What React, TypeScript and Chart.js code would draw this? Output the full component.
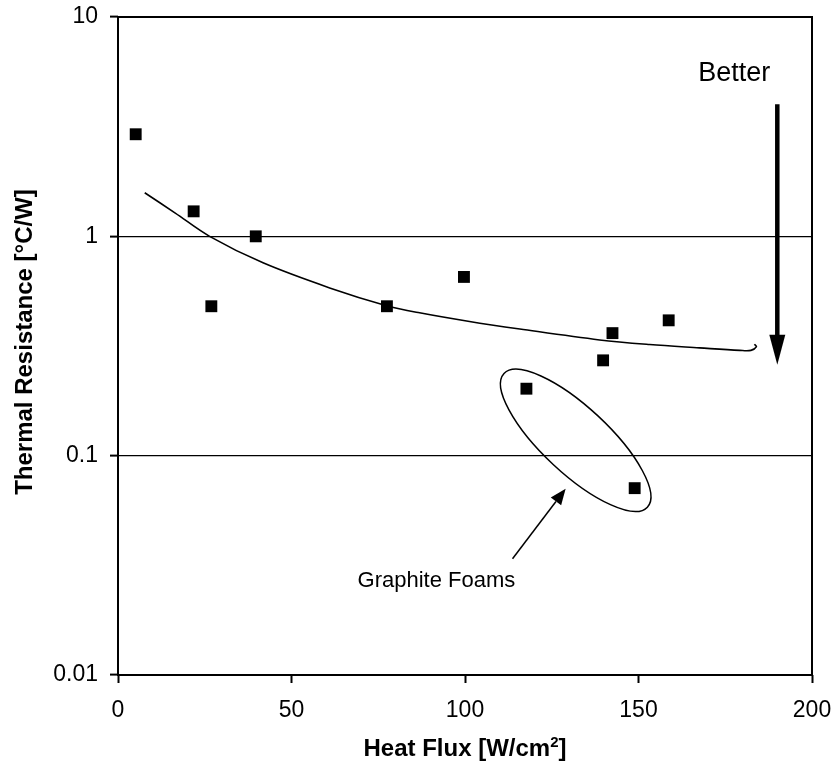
import React, { useEffect, useRef } from "react";
import { Chart, registerables } from "chart.js";

Chart.register(...registerables);

// Measured samples: heat flux [W/cm²] vs thermal resistance [°C/W]
const heatFlux = [5.1, 21.8, 26.9, 39.7, 77.5, 99.7, 117.7, 139.8, 142.5, 148.9, 158.7];
const resistance = [2.92, 1.3, 0.48, 1.0, 0.48, 0.653, 0.202, 0.272, 0.362, 0.0711, 0.414];

// Trend line through the samples
const trendFlux = [7.7, 16.4, 26.4, 41.8, 61.0, 77.4, 86.9, 101.3, 115.8, 138.8, 153.2, 167.6, 179.2, 182.4, 184.0, 183.4];
const trendResistance = [1.58, 1.28, 1.0, 0.757, 0.582, 0.483, 0.448, 0.409, 0.378, 0.337, 0.321, 0.31, 0.302, 0.302, 0.314, 0.322];

// Axis ticks
const xTicks = [0, 50, 100, 150, 200];
const yTicks = [0.01, 0.1, 1, 10];

const FONT = '"Liberation Sans", Arial, Helvetica, sans-serif';
const TICK_SIZE = 23;
const TITLE_SIZE = 24;

const overlay = {
  id: "overlay",
  afterDraw(chart: any) {
    const { ctx, chartArea: a, scales } = chart;
    const x = scales.x;
    const y = scales.y;
    const px = (v: number) => x.getPixelForValue(v);
    const py = (v: number) => y.getPixelForValue(v);

    ctx.save();
    // plot frame
    ctx.strokeStyle = "#000";
    ctx.lineWidth = 2;
    ctx.strokeRect(a.left, a.top, a.right - a.left, a.bottom - a.top);

    // "Better" arrow
    const bx = px(190);
    const bTop = py(4.0);
    const bTip = py(0.26);
    ctx.fillStyle = "#000";
    ctx.lineWidth = 4.5;
    ctx.beginPath();
    ctx.moveTo(bx, bTop);
    ctx.lineTo(bx, bTip - 28);
    ctx.stroke();
    ctx.beginPath();
    ctx.moveTo(bx - 8, bTip - 30);
    ctx.lineTo(bx + 8, bTip - 30);
    ctx.lineTo(bx, bTip);
    ctx.closePath();
    ctx.fill();

    ctx.font = `27px ${FONT}`;
    ctx.textAlign = "right";
    ctx.textBaseline = "alphabetic";
    ctx.fillText("Better", px(188.0), py(5.1));

    // Graphite foam group ellipse
    ctx.lineWidth = 1.5;
    ctx.beginPath();
    ctx.ellipse(px(131.9), py(0.1175), 98, 33, (43 * Math.PI) / 180, 0, Math.PI * 2);
    ctx.stroke();

    // pointer arrow
    const sx = px(113.7), sy = py(0.0339);
    const tx = px(129.0), ty = py(0.0707);
    const ang = Math.atan2(ty - sy, tx - sx);
    const hl = 16, hw = 6.5;
    const baseX = tx - hl * Math.cos(ang), baseY = ty - hl * Math.sin(ang);
    ctx.lineWidth = 1.5;
    ctx.beginPath();
    ctx.moveTo(sx, sy);
    ctx.lineTo(baseX, baseY);
    ctx.stroke();
    ctx.beginPath();
    ctx.moveTo(tx, ty);
    ctx.lineTo(baseX + hw * Math.sin(ang), baseY - hw * Math.cos(ang));
    ctx.lineTo(baseX - hw * Math.sin(ang), baseY + hw * Math.cos(ang));
    ctx.closePath();
    ctx.fill();

    ctx.font = `22px ${FONT}`;
    ctx.textAlign = "right";
    ctx.fillText("Graphite Foams", px(114.5), py(0.0252));

    // x axis title with superscript
    const cx = (a.left + a.right) / 2;
    const ty2 = 756;
    ctx.font = `bold ${TITLE_SIZE}px ${FONT}`;
    const p1 = "Heat Flux [W/cm";
    const p3 = "]";
    const supFont = `bold ${Math.round(TITLE_SIZE * 0.62)}px ${FONT}`;
    const w1 = ctx.measureText(p1).width;
    const w3 = ctx.measureText(p3).width;
    ctx.font = supFont;
    const w2 = ctx.measureText("2").width;
    const startX = cx - (w1 + w2 + w3) / 2;
    ctx.textAlign = "left";
    ctx.font = `bold ${TITLE_SIZE}px ${FONT}`;
    ctx.fillText(p1, startX, ty2);
    ctx.font = supFont;
    ctx.fillText("2", startX + w1, ty2 - 9);
    ctx.font = `bold ${TITLE_SIZE}px ${FONT}`;
    ctx.fillText(p3, startX + w1 + w2, ty2);

    // y axis title
    ctx.translate(25, (a.top + a.bottom) / 2 - 4);
    ctx.rotate(-Math.PI / 2);
    ctx.textAlign = "center";
    ctx.textBaseline = "middle";
    ctx.fillText("Thermal Resistance [°C/W]", 0, 0);
    ctx.restore();
  },
};

export default function App() {
  const canvasRef = useRef<HTMLCanvasElement | null>(null);

  useEffect(() => {
    document.body.style.margin = "0";
    const canvas = canvasRef.current;
    if (!canvas) return;
    const chart = new Chart(canvas, {
      type: "scatter",
      data: {
        datasets: [
          {
            label: "Samples",
            data: heatFlux.map((v, i) => ({ x: v, y: resistance[i] })),
            pointStyle: "rect",
            pointRadius: 8.4,
            backgroundColor: "#000",
            borderColor: "#000",
            borderWidth: 0,
            showLine: false,
          },
          {
            label: "Trend",
            data: trendFlux.map((v, i) => ({ x: v, y: trendResistance[i] })),
            showLine: true,
            pointRadius: 0,
            borderColor: "#000",
            borderWidth: 1.6,
            tension: 0.35,
            fill: false,
          },
        ],
      },
      options: {
        animation: false,
        responsive: false,
        devicePixelRatio: 1,
        layout: { padding: { left: 0, top: 17, right: 25, bottom: 0 } },
        plugins: {
          legend: { display: false },
          tooltip: { enabled: false },
        },
        scales: {
          x: {
            type: "linear",
            min: 0,
            max: 200,
            afterBuildTicks: (s: any) => {
              s.ticks = xTicks.map((v) => ({ value: v }));
            },
            afterFit: (s: any) => {
              s.height = 91;
              s.paddingLeft = 0;
              s.paddingRight = 0;
            },
            border: { display: false },
            grid: {
              drawOnChartArea: false,
              drawTicks: true,
              tickLength: 8,
              tickColor: "#000",
              tickWidth: 2,
            },
            ticks: {
              color: "#000",
              padding: 14,
              font: { family: FONT, size: TICK_SIZE },
              maxRotation: 0,
            },
            title: { display: false },
          },
          y: {
            type: "logarithmic",
            min: 0.01,
            max: 10,
            afterBuildTicks: (s: any) => {
              s.ticks = yTicks.map((v) => ({ value: v }));
            },
            afterFit: (s: any) => {
              s.width = 118;
              s.paddingTop = 0;
              s.paddingBottom = 0;
            },
            border: { display: false },
            grid: {
              color: "#000",
              lineWidth: 1.2,
              drawTicks: true,
              tickLength: 8,
              tickColor: "#000",
              tickWidth: 2,
            },
            ticks: {
              color: "#000",
              padding: 12,
              font: { family: FONT, size: TICK_SIZE },
              callback: (v: any) => String(v),
            },
            title: { display: false },
          },
        },
      },
      plugins: [overlay],
    });
    return () => chart.destroy();
  }, []);

  return (
    <div style={{ width: 837, height: 766 }}>
      <canvas ref={canvasRef} width={837} height={766} style={{ display: "block" }} />
    </div>
  );
}
